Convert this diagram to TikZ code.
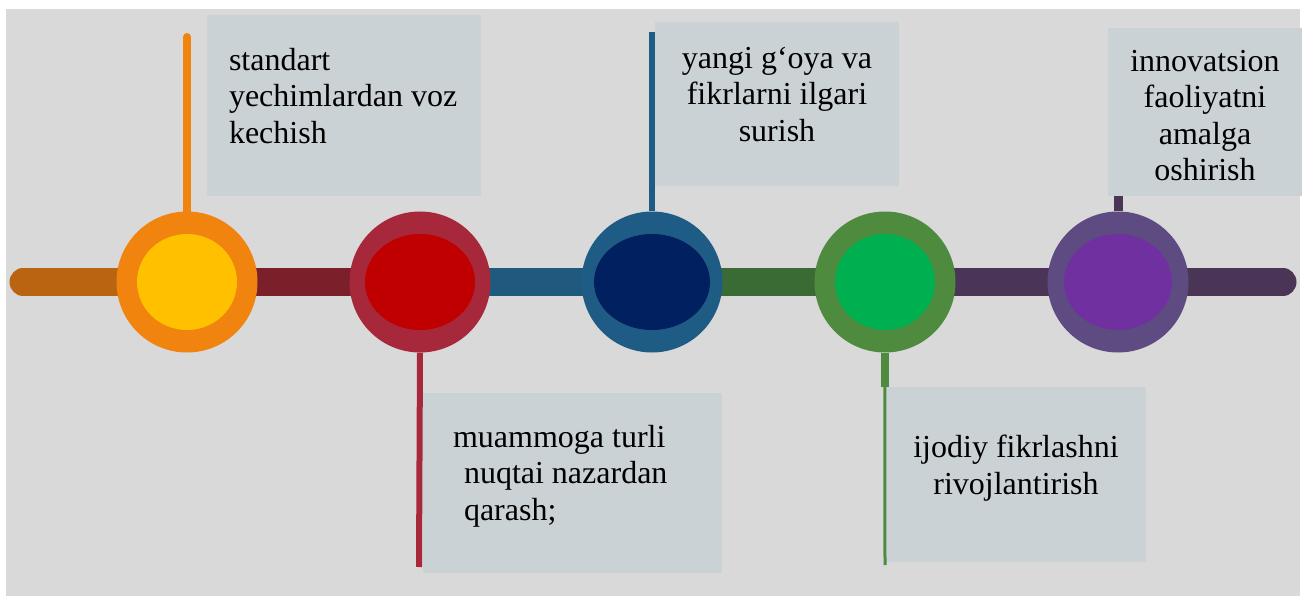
\documentclass[tikz,border=0pt]{standalone}
\usepackage{fontspec}
\setmainfont{Liberation Serif}
\usetikzlibrary{positioning}

\definecolor{bggray}{HTML}{D9D9D9}
\definecolor{boxgray}{HTML}{CBD2D5}
% ring / inner / bar colours
\definecolor{ringA}{HTML}{F0840F}
\definecolor{innerA}{HTML}{FFC000}
\definecolor{ringB}{HTML}{A7283A}
\definecolor{innerB}{HTML}{C00000}
\definecolor{ringC}{HTML}{1F5C85}
\definecolor{innerC}{HTML}{002060}
\definecolor{ringD}{HTML}{4E8B3F}
\definecolor{innerD}{HTML}{00B050}
\definecolor{ringE}{HTML}{5E4B82}
\definecolor{innerE}{HTML}{7030A0}
\definecolor{barA}{HTML}{B86410}
\definecolor{barB}{HTML}{7B1F2B}
\definecolor{barC}{HTML}{1F5A7E}
\definecolor{barD}{HTML}{3B6B34}
\definecolor{barE}{HTML}{4A3556}

\begin{document}
\begin{tikzpicture}[x=1pt, y=-1pt,
    box/.style={fill=boxgray, inner sep=0pt},
    lbl/.style={font=\fontsize{32pt}{36.5pt}\selectfont, inner sep=0pt},
    ring/.style={circle, minimum size=141pt, inner sep=0pt},
    bar/.style={line width=27pt},
    stemline/.style={line width=#1}]

    % page and grey background
    \useasboundingbox (0,0) rectangle (1307,596);
    \fill[bggray] (6,9) rectangle (1300,596);

    % points on the time line
    \coordinate (p0) at (23,282);
    \foreach \i/\x in {1/187,2/420,3/652,4/885,5/1118}
    \coordinate (p\i) at (\x,282);
    \coordinate (p6) at (1283,282);

    % draw the thick line, one piece per colour
    \draw[bar, barA, line cap=round] (p0) -- (p1);
    \draw[bar, barB] (p1) -- (p2);
    \draw[bar, barC] (p2) -- (p3);
    \draw[bar, barD] (p3) -- (p4);
    \draw[bar, barE] (p4) -- (p5);
    \draw[bar, barE, line cap=round] (p5) -- (p6);

    % draw the text boxes
    \node[box, minimum width=274pt, minimum height=181pt] (b1) at (344,105.5) {};
    \node[box, minimum width=299pt, minimum height=180pt] (b2) at (572.5,483) {};
    \node[box, minimum width=244pt, minimum height=164pt] (b3) at (777,104) {};
    \node[box, minimum width=260pt, minimum height=175pt] (b4) at (1016,474.5) {};
    \node[box, minimum width=194pt, minimum height=168pt] (b5) at (1205,112) {};

    % draw the circles
    \foreach \i/\r/\rx in {1/A/50,2/B/55,3/C/58,4/D/50,5/E/54}
    {
        \node[ring, fill=ring\r] (c\i) at (p\i) {};
        \fill[inner\r] (c\i) ellipse [x radius=\rx, y radius=48];
    }

    % draw the stems from circles to boxes
    \coordinate (s1) at (187,37);
    \coordinate (s2) at (419,567);
    \coordinate (s3) at (652,32);
    \coordinate (s4) at (885,565);
    \draw[stemline=8pt, ringA, line cap=round] (c1.north) -- (s1);
    \draw[stemline=6pt, ringB] (c2.south) -- (s2);
    \draw[stemline=6pt, ringC] (c3.north) -- (s3);
    \draw[stemline=8pt, ringD] (c4.south) -- (c4.south |- b4.north);
    \draw[stemline=3pt, ringD] (b4.north west) ++(-1,0) -- (s4);
    \draw[stemline=9pt, barE] (c5.north) -- (c5.north |- b5.south);

    % add texts
    \node[lbl, align=left, anchor=north west, below right=33pt and 22pt of b1.north west] (t1)
        {standart\\yechimlardan voz\\kechish};
    \node[lbl, align=left, anchor=north west, below right=32pt and 30pt of b2.north west] (t2)
        {muammoga turli\\\hspace*{11pt}nuqtai nazardan\\\hspace*{11pt}qarash;};
    \node[lbl, align=center, below=25pt of b3.north] (t3)
        {yangi g‘oya va\\fikrlarni ilgari\\surish};
    \node[lbl, align=center, below=48pt of b4.north] (t4)
        {ijodiy fikrlashni\\rivojlantirish};
    \node[lbl, align=center, below=22pt of b5.north] (t5)
        {innovatsion\\faoliyatni\\amalga\\oshirish};
\end{tikzpicture}
\end{document}
